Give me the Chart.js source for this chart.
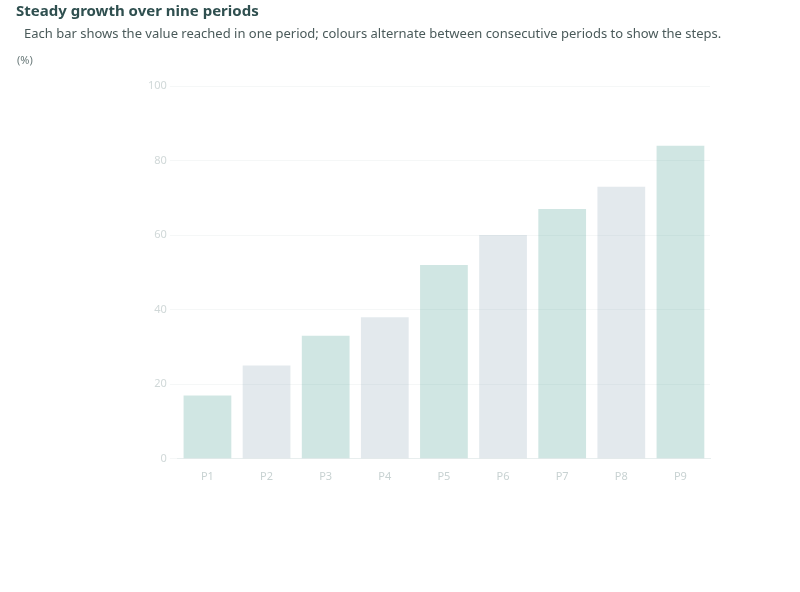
<!DOCTYPE html>
<html>
<head>
<meta charset="utf-8">
<script src="https://cdn.jsdelivr.net/npm/chart.js@4.4.0/dist/chart.umd.min.js"></script>
<style>
  html, body { margin: 0; padding: 0; background: #ffffff; }
  #wrap { position: relative; width: 800px; height: 592px; overflow: hidden; }
  #c { position: absolute; left: 0; top: 0; }
  .t { position: absolute; font-family: 'Noto Sans', sans-serif; white-space: nowrap; }
  #title { left: 16px; top: 0px; font-size: 15px; font-weight: bold; color: #2f4f4f; }
  #sub { left: 24px; top: 24px; font-size: 13px; color: #4a5a5a; }
  #unit { left: 17px; top: 52px; font-size: 11px; color: #6a7a7a; }
</style>
</head>
<body>
<div id="wrap">
  <canvas id="c" width="800" height="592"></canvas>
  <div class="t" id="title">Steady growth over nine periods</div>
  <div class="t" id="sub">Each bar shows the value reached in one period; colours alternate between consecutive periods to show the steps.</div>
  <div class="t" id="unit">(%)</div>
</div>
<script>
const categories = ["P1", "P2", "P3", "P4", "P5", "P6", "P7", "P8", "P9"];
const seriesName = "Value";
const seriesValues = [17, 25, 33, 38, 52, 60, 67, 73, 84];
const barColors = ["rgba(60,150,140,0.24)", "rgba(140,165,180,0.24)"];
const yTicks = [0, 20, 40, 60, 80, 100];

new Chart(document.getElementById('c'), {
  type: 'bar',
  data: {
    labels: categories,
    datasets: [{
      label: seriesName,
      data: seriesValues,
      backgroundColor: categories.map((_, i) => barColors[i % 2]),
      borderWidth: 0,
      categoryPercentage: 0.85,
      barPercentage: 0.95
    }]
  },
  options: {
    responsive: false,
    animation: false,
    devicePixelRatio: 1,
    layout: { padding: { left: 145, right: 90, top: 86, bottom: 106 } },
    plugins: {
      legend: { display: false },
      title: { display: false },
      tooltip: { enabled: false }
    },
    scales: {
      x: {
        grid: { display: false },
        border: { color: '#e8eeee' },
        ticks: { color: '#c8d2d2', font: { family: 'Noto Sans', size: 11 } }
      },
      y: {
        min: 0,
        max: yTicks[yTicks.length - 1],
        afterBuildTicks: (axis) => { axis.ticks = yTicks.map(v => ({ value: v })); },
        grid: { color: '#f5f7f7' },
        border: { display: false },
        ticks: { color: '#d0d8d8', font: { family: 'Noto Sans', size: 11 } }
      }
    }
  }
});
</script>
</body>
</html>
